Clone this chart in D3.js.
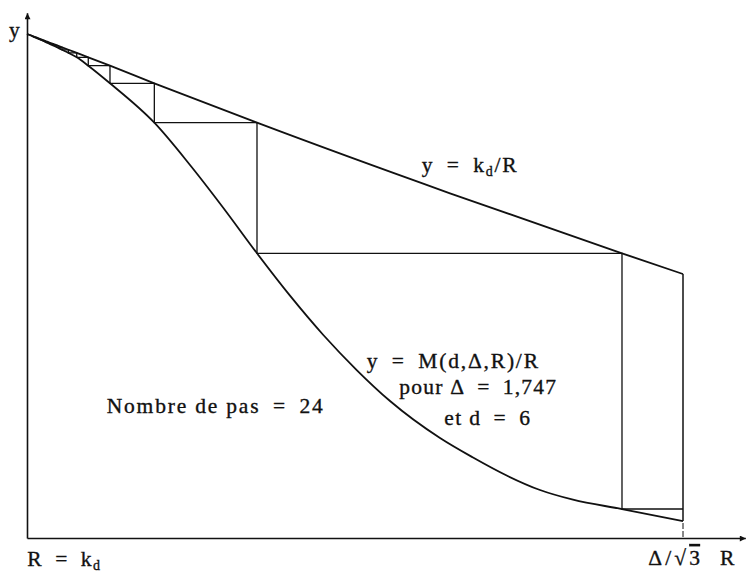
<!DOCTYPE html>
<html>
<head>
<meta charset="utf-8">
<script src="https://cdn.jsdelivr.net/npm/d3@7"></script>
<style>
  body { margin: 0; background: #fff; }
  svg text { font-family: "Liberation Serif", "Times New Roman", serif; font-size: 21.5px; fill: #111; stroke: #111; stroke-width: 0.35px; }
</style>
</head>
<body>
<div id="chart"></div>
<script>
// relative units: R = k_d -> 0, R = Delta/sqrt(3) -> 100 ; y(k_d) -> 100
var rEnd = 100,
    rAxisMax = 109.5,
    yAxisMax = 104.2;

// points where the staircase touches y = M(d,Delta,R)/R (24 steps, the first ones tiny)
var stairR = [1.04, 1.13, 1.23, 1.36, 1.49, 1.65, 1.81, 2.00, 2.21, 2.45, 2.74, 3.08,
              3.48, 3.96, 4.57, 5.34, 6.33, 7.58, 9.34, 12.65, 19.41, 35.06, 90.70];
var stairY = [99.44, 99.38, 99.33, 99.27, 99.19, 99.11, 99.01, 98.91, 98.79, 98.65, 98.47, 98.27,
              98.04, 97.74, 97.36, 96.87, 96.25, 95.38, 93.71, 90.22, 82.40, 56.49, 5.75];

// extra readings of the lower curve between the stairs
var lowerR = [0, 24.85, 29.88, 40.09, 45.17, 50.26, 55.34, 62.96, 67.99, 73.12, 78.20, 83.23, 100];
var lowerY = [100, 74.01, 65.58, 48.08, 40.28, 33.33, 27.18, 19.84, 15.97, 12.40, 9.52, 7.60, 3.37];

// extra readings of y = k_d/R
var upperR = [0, 64.48, 100];
var upperY = [100, 68.39, 52.38];

var width = 746, height = 575;

var x = d3.scaleLinear().domain([0, 100]).range([27, 683]),
    y = d3.scaleLinear().domain([0, 100]).range([538, 34]);

var svg = d3.select("#chart").append("svg")
    .attr("width", width)
    .attr("height", height);

var defs = svg.append("defs");
defs.append("marker")
    .attr("id", "arrow")
    .attr("viewBox", "0 0 10 10")
    .attr("refX", 10)
    .attr("refY", 5)
    .attr("markerUnits", "userSpaceOnUse")
    .attr("markerWidth", 9)
    .attr("markerHeight", 6)
    .attr("orient", "auto")
  .append("path")
    .attr("d", "M0,0L10,5L0,10z")
    .attr("fill", "#111");

// build the curve point lists
var lowerPts = stairR.map(function(r, i) { return [r, stairY[i]]; })
    .concat(lowerR.map(function(r, i) { return [r, lowerY[i]]; }))
    .sort(function(a, b) { return a[0] - b[0]; });

// the horizontal from stair i meets the upper curve at stairR[i+1]
var upperPts = stairR.slice(1).map(function(r, i) { return [r, stairY[i]]; })
    .concat(upperR.map(function(r, i) { return [r, upperY[i]]; }))
    .sort(function(a, b) { return a[0] - b[0]; });

var stairPts = stairR.map(function(r, i) { return [r, stairY[i]]; });
stairPts.push([rEnd, stairY[stairY.length - 1]]);

var curve = d3.line()
    .x(function(d) { return x(d[0]); })
    .y(function(d) { return y(d[1]); })
    .curve(d3.curveMonotoneX);

var steps = d3.line()
    .x(function(d) { return x(d[0]); })
    .y(function(d) { return y(d[1]); })
    .curve(d3.curveStepAfter);

// axes, no ticks, with arrows
var xa = x.copy().domain([0, rAxisMax]).range([x(0), x(rAxisMax)]),
    ya = y.copy().domain([0, yAxisMax]).range([y(0), y(yAxisMax)]);

svg.append("g")
    .attr("transform", "translate(0," + y(0) + ")")
    .call(d3.axisBottom(xa).tickValues([]).tickSizeOuter(0))
    .call(function(g) {
      g.select(".domain").attr("stroke", "#111").attr("stroke-width", 1.6).attr("marker-end", "url(#arrow)");
    });

svg.append("g")
    .attr("transform", "translate(" + x(0) + ",0)")
    .call(d3.axisLeft(ya).tickValues([]).tickSizeOuter(0))
    .call(function(g) {
      g.select(".domain").attr("stroke", "#111").attr("stroke-width", 1.6).attr("marker-end", "url(#arrow)");
    });

svg.append("path")
    .attr("d", steps(stairPts))
    .attr("fill", "none")
    .attr("stroke", "#111")
    .attr("stroke-width", 1.3);

svg.append("path")
    .attr("d", curve(upperPts))
    .attr("fill", "none")
    .attr("stroke", "#111")
    .attr("stroke-width", 1.8);

svg.append("path")
    .attr("d", curve(lowerPts))
    .attr("fill", "none")
    .attr("stroke", "#111")
    .attr("stroke-width", 1.8);

// right boundary R = Delta/sqrt(3)
svg.append("line")
    .attr("x1", x(rEnd)).attr("x2", x(rEnd))
    .attr("y1", y(upperY[upperY.length - 1])).attr("y2", y(lowerY[lowerY.length - 1]))
    .attr("stroke", "#111")
    .attr("stroke-width", 1.5);

svg.append("line")
    .attr("x1", x(rEnd)).attr("x2", x(rEnd))
    .attr("y1", y(lowerY[lowerY.length - 1]) + 2).attr("y2", y(0))
    .attr("stroke", "#111")
    .attr("stroke-width", 1)
    .attr("stroke-dasharray", "6,2");

// labels
function label(px, py, len) {
  var t = svg.append("text").attr("x", px).attr("y", py);
  if (len) t.attr("textLength", len).attr("lengthAdjust", "spacing");
  return t;
}
function sub(t, before, s, after) {
  t.append("tspan").text(before);
  t.append("tspan").attr("font-size", 14).attr("dy", 4).text(s);
  t.append("tspan").attr("dy", -4).text(after);
}

label(9, 37).text("y");

sub(label(421.7, 171.7, 95), "y\u2002=\u2002k", "d", "/R");
label(366.7, 368, 171.3).text("y\u2002=\u2002M(d,\u0394,R)/R");
label(399.3, 394, 156.7).text("pour \u0394\u2002=\u20021,747");
label(444.3, 425, 85.7).text("et d\u2002=\u20026");
label(106.7, 413, 216).text("Nombre de pas\u2002=\u200224");

sub(label(27.3, 566, 72.7), "R\u2002=\u2002k", "d", "");

var dl = label(648.3, 565, 51.7);
dl.append("tspan").text("\u0394/\u221A");
dl.append("tspan").attr("text-decoration", "overline").text("3");
label(720, 565).text("R");
</script>
</body>
</html>
